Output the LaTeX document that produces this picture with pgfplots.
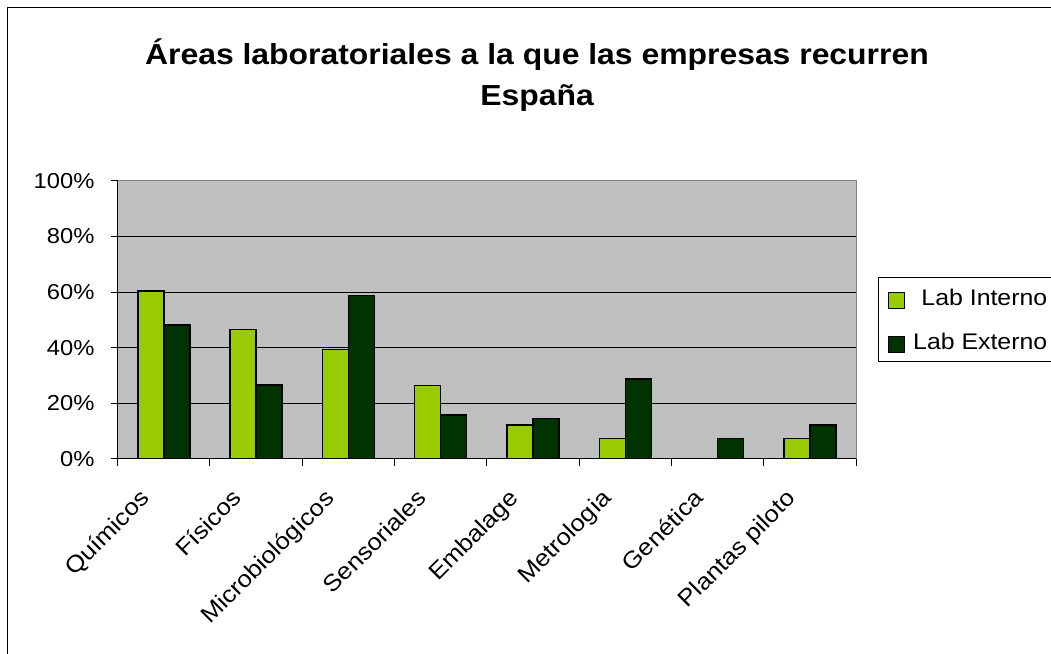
\documentclass[border=0pt]{standalone}
\usepackage{fontspec}
\setmainfont{Liberation Sans}[FakeStretch=1.1]
\usepackage{pgfplots}
\pgfplotsset{compat=1.18}
\definecolor{labint}{HTML}{99CC00}
\definecolor{labext}{HTML}{003300}
\definecolor{plotbg}{HTML}{C0C0C0}
\definecolor{plotborder}{HTML}{808080}
\begin{document}
\begin{tikzpicture}
\begin{scope}
\clip (0pt,0pt) rectangle (1051pt,653pt);
\fill[white] (0pt,0pt) rectangle (1051pt,653pt);
\draw[black, line width=1pt] (7.5pt,645.5pt) rectangle (1080pt,-20pt);
\begin{axis}[
  at={(117.7pt,194.3pt)}, anchor=south west,
  scale only axis, width=738.3pt, height=277.7pt,
  xmin=-0.5, xmax=7.5, ymin=0, ymax=100,
  ybar=0pt, bar width=26pt,
  axis x line*=bottom, axis y line*=left,
  axis line style={black, line width=1pt, -},
  axis background/.style={fill=plotbg, draw=plotborder, line width=1pt},
  ytick={20,40,60,80}, yticklabels={20\%,40\%,60\%,80\%},
  extra y ticks={0,100}, extra y tick labels={0\%,100\%},
  extra y tick style={grid=none},
  ymajorgrids, major grid style={black, line width=1pt},
  xtick={0,...,7},
  xticklabels={Químicos,Físicos,Microbiológicos,Sensoriales,Embalage,Metrologia,Genética,Plantas piloto},
  major x tick style={draw=none},
  minor xtick={-0.5,0.5,...,7.5},
  major tick length=7pt, minor tick length=7pt,
  tick align=outside,
  tick style={black, line width=1pt},
  ytick pos=left, xtick pos=bottom,
  yticklabel style={font=\fontsize{21.6}{26}\selectfont, anchor=east, inner sep=0pt, xshift=-16pt},
  xticklabel style={font=\fontsize{23.3}{28}\selectfont, xshift=-13pt, yshift=-34pt, rotate=45, anchor=base east, inner sep=0pt},
  legend style={at={(rel axis cs:1.0294,0.6532)}, anchor=north west, draw=black, line width=1pt, fill=white,
    inner xsep=10pt, inner ysep=6pt, row sep=16.6pt, font=\fontsize{22.6}{27}\selectfont,
    nodes={inner sep=0pt, text height=21.7pt, text depth=5.7pt},
    /tikz/every odd column/.style={column sep=8.4pt}},
  legend cell align=right,
  legend image code/.code={\draw[#1, draw=black, line width=1pt] (0pt,-10.5pt) rectangle (15.6pt,5.1pt);},
]
\addplot[fill=labint, draw=black, line width=1.5pt] coordinates {(0,60.3) (1,46.6) (2,39.4) (3,26.4) (4,12.1) (5,7.2) (7,7.2)};
\addlegendentry{Lab Interno}
\addplot[fill=labext, draw=black, line width=1.5pt] coordinates {(0,48.1) (1,26.5) (2,58.8) (3,15.7) (4,14.4) (5,28.7) (6,7.2) (7,12.1)};
\addlegendentry{Lab Externo}
\end{axis}
\node[anchor=base, font=\bfseries\fontsize{29}{35}\selectfont, inner sep=0pt] at (537pt,588pt) {Áreas laboratoriales a la que las empresas recurren};
\node[anchor=base, font=\bfseries\fontsize{29}{35}\selectfont, inner sep=0pt] at (537pt,547pt) {España};
\end{scope}
\pgfresetboundingbox
\useasboundingbox (0pt,0pt) rectangle (1051pt,653pt);
\end{tikzpicture}
\end{document}
